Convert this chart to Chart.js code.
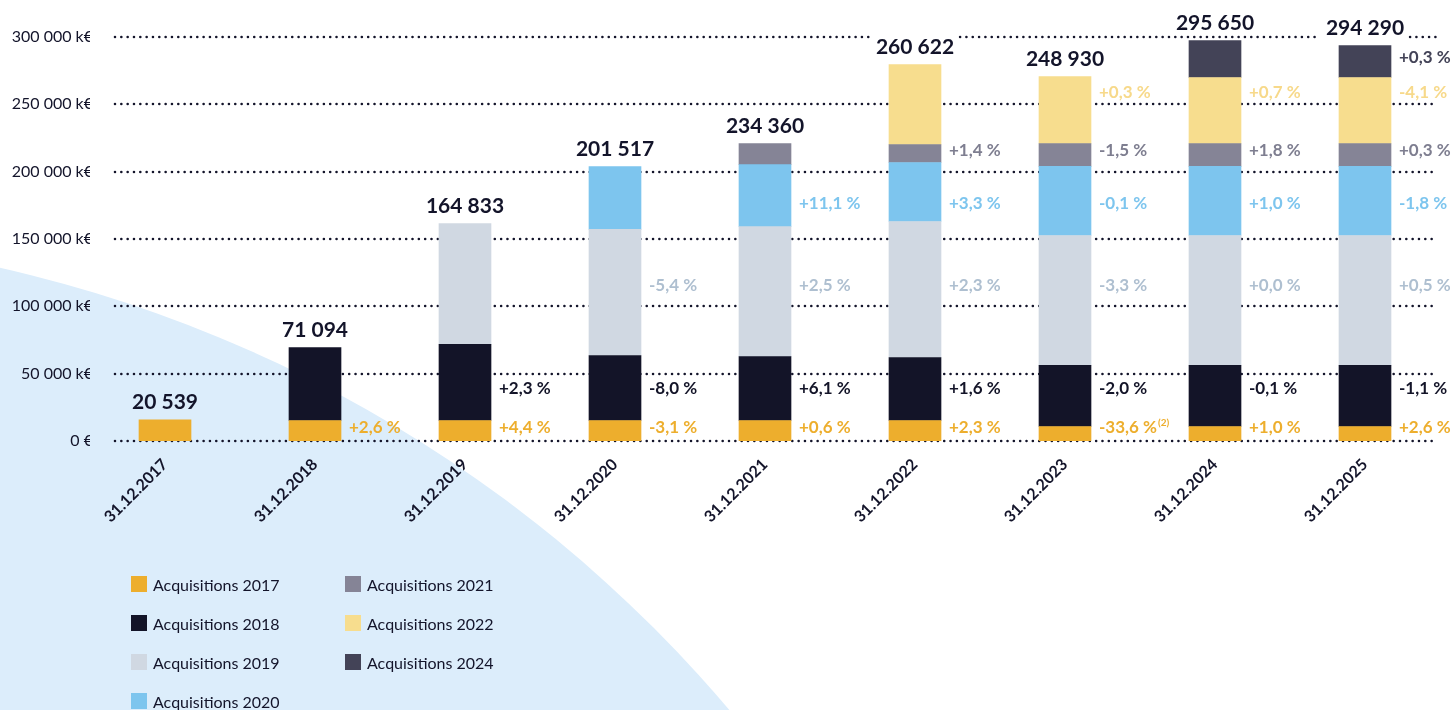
<!DOCTYPE html>
<html>
<head>
<meta charset="utf-8">
<script src="https://cdn.jsdelivr.net/npm/chart.js@4.4.0/dist/chart.umd.min.js"></script>
<style>
    body { margin: 0; width: 1452px; height: 710px; overflow: hidden; background: #fff; position: relative; font-family: Lato, sans-serif; }
    #bg { position: absolute; left: -1637px; top: 235px; width: 2684px; height: 2684px; border-radius: 50%; background: #DCEDFB; }
    #wrap { position: absolute; left: 0; top: 0; width: 1452px; height: 710px; }
    #legend .item { position: absolute; display: flex; align-items: center; height: 16px; font: 16px Lato, sans-serif; color: #13142A; white-space: nowrap; }
    #legend .box { width: 16px; height: 16px; margin-right: 6px; display: inline-block; }
</style>
</head>
<body>
<div id="bg"></div>
<div id="wrap"><canvas id="chart" width="1452" height="710"></canvas></div>
<div id="legend"></div>
<script>
// Catégories (dates de clôture)
const categories = ['31.12.2017', '31.12.2018', '31.12.2019', '31.12.2020', '31.12.2021', '31.12.2022', '31.12.2023', '31.12.2024', '31.12.2025'];

// Valeurs par millésime d'acquisition (k€)
const acq2017 = [15800, 15200, 15200, 15200, 15200, 15200, 10800, 10800, 10800];
const acq2018 = [null, 54200, 56500, 48300, 47500, 46800, 45300, 45300, 45300];
const acq2019 = [null, null, 89800, 93600, 96500, 101000, 96500, 96500, 96500];
const acq2020 = [null, null, null, 46700, 46000, 43800, 51300, 51300, 51300];
const acq2021 = [null, null, null, null, 15600, 13400, 17000, 17000, 17000];
const acq2022 = [null, null, null, null, null, 59400, 49800, 49000, 49000];
const acq2024 = [null, null, null, null, null, null, null, 27500, 23800];

// Totaux affichés au-dessus des barres
const totals = [20539, 71094, 164833, 201517, 234360, 260622, 248930, 295650, 294290];

// Variations (%)
const chg2017 = [null, 2.6, 4.4, -3.1, 0.6, 2.3, -33.6, 1.0, 2.6];
const note2017 = [null, null, null, null, null, null, '(2)', null, null];
const chg2018 = [null, null, 2.3, -8.0, 6.1, 1.6, -2.0, -0.1, -1.1];
const chg2019 = [null, null, null, -5.4, 2.5, 2.3, -3.3, 0.0, 0.5];
const chg2020 = [null, null, null, null, 11.1, 3.3, -0.1, 1.0, -1.8];
const chg2021 = [null, null, null, null, null, 1.4, -1.5, 1.8, 0.3];
const chg2022 = [null, null, null, null, null, null, 0.3, 0.7, -4.1];
const chg2024 = [null, null, null, null, null, null, null, null, 0.3];

// Étiquettes de l'axe Y
const yTickLabels = ['0 €', '50 000 k€', '100 000 k€', '150 000 k€', '200 000 k€', '250 000 k€', '300 000 k€'];

const INK = '#13142A';

function fmtTotal(n) {
    return String(n).replace(/\B(?=(\d{3})+(?!\d))/g, ' ');
}

function fmtPct(v) {
    return (v < 0 ? '-' : '+') + Math.abs(v).toFixed(1).replace('.', ',') + ' %';
}

function makeSet(label, data, color, textColor, chg, nudge, notes) {
    return {
        label: label,
        data: data,
        backgroundColor: color,
        borderWidth: 0,
        barThickness: 52,
        chg: chg,
        notes: notes || [],
        textColor: textColor,
        nudge: nudge
    };
}

// somme empilée pour une catégorie
function stackSum(chart, i) {
    return chart.data.datasets.reduce((s, ds) => s + (ds.data[i] || 0), 0);
}

// position des totaux
function totalBoxes(chart) {
    const ctx = chart.ctx;
    const x = chart.scales.x, y = chart.scales.y;
    ctx.save();
    ctx.font = 'bold 21px Lato';
    const boxes = totals.map((t, i) => {
        const cx = x.getPixelForValue(i);
        const cy = y.getPixelForValue(stackSum(chart, i)) - 17;
        const w = ctx.measureText(fmtTotal(t)).width;
        return { cx: cx, cy: cy, x0: cx - w / 2 - 6, x1: cx + w / 2 + 6, text: fmtTotal(t) };
    });
    ctx.restore();
    return boxes;
}

// lignes pointillées
const dottedGrid = {
    id: 'dottedGrid',
    beforeDatasetsDraw(chart) {
        const ctx = chart.ctx;
        const area = chart.chartArea;
        const y = chart.scales.y;
        const boxes = totalBoxes(chart);
        ctx.save();
        ctx.strokeStyle = INK;
        ctx.lineWidth = 2.6;
        ctx.lineCap = 'round';
        ctx.setLineDash([0, 6.33]);
        y.ticks.forEach(t => {
            const py = Math.round(y.getPixelForValue(t.value));
            const cuts = boxes.filter(b => Math.abs(b.cy - py) < 12).sort((a, b) => a.x0 - b.x0);
            let start = area.left + 25;
            const end = area.right - 3;
            cuts.forEach(c => {
                if (c.x0 > start) {
                    ctx.beginPath();
                    ctx.moveTo(start, py);
                    ctx.lineTo(c.x0, py);
                    ctx.stroke();
                }
                start = Math.max(start, c.x1);
            });
            if (end > start) {
                ctx.beginPath();
                ctx.moveTo(start, py);
                ctx.lineTo(end, py);
                ctx.stroke();
            }
        });
        ctx.restore();
    }
};

// totaux + variations
const valueLabels = {
    id: 'valueLabels',
    afterDatasetsDraw(chart) {
        const ctx = chart.ctx;
        const last = categories.length - 1;
        ctx.save();
        ctx.textBaseline = 'middle';

        ctx.font = 'bold 21px Lato';
        ctx.fillStyle = INK;
        ctx.textAlign = 'center';
        totalBoxes(chart).forEach(b => ctx.fillText(b.text, b.cx, b.cy));

        ctx.textAlign = 'left';
        chart.data.datasets.forEach((ds, d) => {
            const meta = chart.getDatasetMeta(d);
            const ref = meta.data[last];
            const rowY = (ref.y + ref.base) / 2 + ds.nudge;
            ds.chg.forEach((v, i) => {
                if (v === null) return;
                const bar = meta.data[i];
                const lx = bar.x + bar.width / 2 + 8;
                ctx.font = 'bold 17px Lato';
                ctx.fillStyle = ds.textColor;
                const txt = fmtPct(v);
                ctx.fillText(txt, lx, rowY);
                if (ds.notes[i]) {
                    const w = ctx.measureText(txt).width;
                    ctx.font = 'bold 10px Lato';
                    ctx.fillText(ds.notes[i], lx + w + 1, rowY - 5);
                }
            });
        });
        ctx.restore();
    }
};

const chart = new Chart(document.getElementById('chart'), {
    type: 'bar',
    data: {
        labels: categories,
        datasets: [
            makeSet('Acquisitions 2017', acq2017, '#EDAE2D', '#EDAE2D', chg2017, -6, note2017),
            makeSet('Acquisitions 2018', acq2018, '#131428', '#131428', chg2018, -7),
            makeSet('Acquisitions 2019', acq2019, '#D0D8E2', '#AEBFD0', chg2019, -14.5),
            makeSet('Acquisitions 2020', acq2020, '#7DC5EE', '#7DC5EE', chg2020, 3),
            makeSet('Acquisitions 2021', acq2021, '#858496', '#7E7E90', chg2021, -4),
            makeSet('Acquisitions 2022', acq2022, '#F7DD8E', '#F7D98A', chg2022, -18.5),
            makeSet('Acquisitions 2024', acq2024, '#434357', '#434357', chg2024, -3.5)
        ]
    },
    options: {
        responsive: false,
        devicePixelRatio: 1,
        animation: false,
        layout: { padding: { top: 37, right: 12, left: 0, bottom: 0 } },
        plugins: {
            legend: { display: false },
            tooltip: { enabled: false }
        },
        scales: {
            x: {
                stacked: true,
                offset: true,
                grid: { display: false, drawTicks: false },
                border: { display: false },
                ticks: {
                    autoSkip: false,
                    minRotation: 45,
                    maxRotation: 45,
                    padding: 14,
                    color: INK,
                    font: { family: 'Lato', size: 16, weight: 'bold' }
                },
                afterFit(scale) { scale.height = 269; }
            },
            y: {
                stacked: true,
                min: 0,
                max: 300000,
                grid: { display: false, drawTicks: false },
                border: { display: false },
                ticks: {
                    stepSize: 50000,
                    padding: -3,
                    color: INK,
                    font: { family: 'Lato', size: 16 },
                    callback: (v, i) => yTickLabels[i]
                },
                afterFit(scale) { scale.width = 90; }
            }
        }
    },
    plugins: [dottedGrid, valueLabels]
});

// légende en deux colonnes
const legend = document.getElementById('legend');
chart.data.datasets.forEach((ds, i) => {
    const item = document.createElement('div');
    item.className = 'item';
    item.style.left = (i < 4 ? 131 : 345) + 'px';
    item.style.top = (576 + (i % 4) * 39) + 'px';
    item.innerHTML = `<span class="box" style="background:${ds.backgroundColor}"></span>${ds.label}`;
    legend.appendChild(item);
});
</script>
</body>
</html>
